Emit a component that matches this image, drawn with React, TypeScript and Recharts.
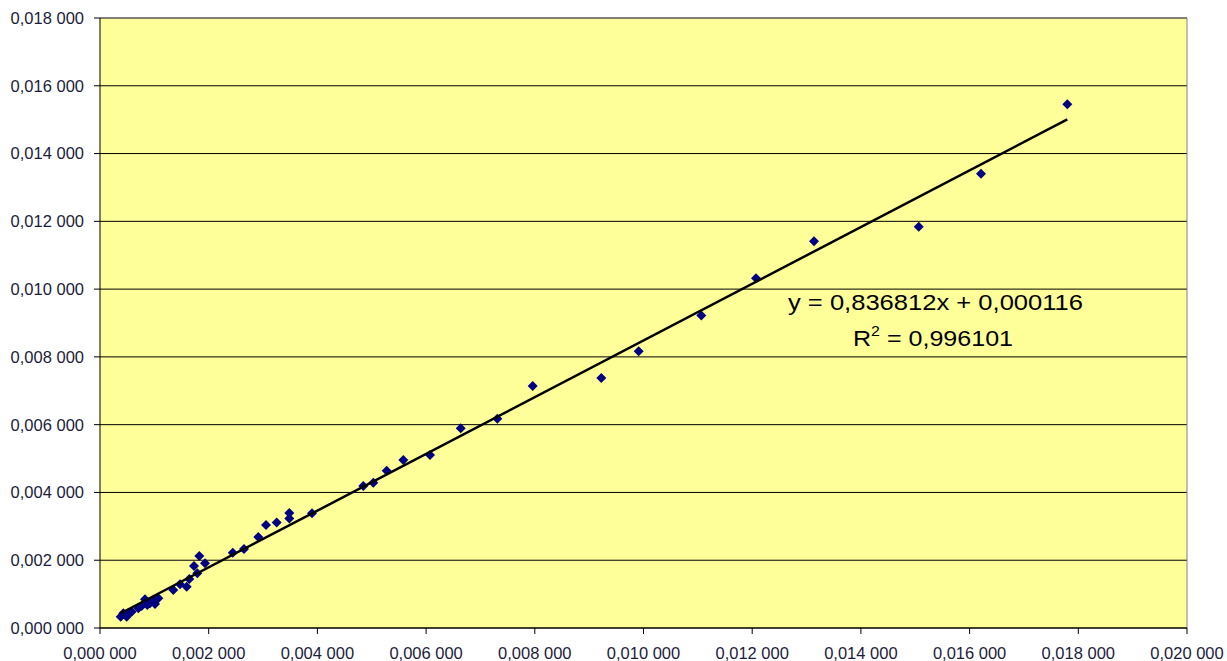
import React from 'react';
import { ScatterChart, Scatter, XAxis, YAxis, CartesianGrid, ReferenceLine } from 'recharts';

const xValues = [
  0.000381, 0.000429, 0.000491, 0.000521, 0.000583, 0.000705, 0.000767, 0.000828, 0.000871, 0.00092,
  0.000981, 0.001012, 0.001074, 0.001349, 0.001472, 0.001595, 0.001643, 0.00173, 0.00179, 0.001827,
  0.001932, 0.002442, 0.00265, 0.002913, 0.003054, 0.003251, 0.003483, 0.003483, 0.003901, 0.004845,
  0.005029, 0.005275, 0.005581, 0.006072, 0.006637, 0.00731, 0.007961, 0.009224, 0.009912, 0.011064,
  0.01207, 0.013137, 0.015064, 0.01621, 0.017798,
];
const yValues = [
  0.000333, 0.000434, 0.000333, 0.000434, 0.000481, 0.000581, 0.000649, 0.000847, 0.000679, 0.000729,
  0.000826, 0.000708, 0.000876, 0.001121, 0.00129, 0.001219, 0.001446, 0.00183, 0.001614, 0.002125,
  0.001909, 0.002222, 0.002331, 0.002685, 0.003039, 0.003113, 0.003393, 0.003231, 0.003385, 0.00419,
  0.004288, 0.004642, 0.004957, 0.005105, 0.005896, 0.006176, 0.007141, 0.007377, 0.008165, 0.009224,
  0.010319, 0.011411, 0.011842, 0.013406, 0.015453,
];
const slope = 0.836812;
const intercept = 0.000116;
const xTicks = [0, 0.002, 0.004, 0.006, 0.008, 0.01, 0.012, 0.014, 0.016, 0.018, 0.02];
const yTicks = [0, 0.002, 0.004, 0.006, 0.008, 0.01, 0.012, 0.014, 0.016, 0.018];
const equationText = 'y = 0,836812x + 0,000116';
const r2Value = '0,996101';

const points = xValues.map((x, i) => ({ x, y: yValues[i] }));
const xMin = Math.min(...xValues);
const xMax = Math.max(...xValues);
const trend = [
  { x: xMin, y: slope * xMin + intercept },
  { x: xMax, y: slope * xMax + intercept },
];

const fmt = (v: number) => {
  const s = v.toFixed(6);
  const [a, b] = s.split('.');
  return `${a},${b.slice(0, 3)} ${b.slice(3)}`;
};

const Diamond = (props: any) => {
  const { cx, cy } = props;
  if (cx == null || cy == null) return null;
  const r = 5;
  return (
    <polygon
      points={`${cx},${cy - r} ${cx + r},${cy} ${cx},${cy + r} ${cx - r},${cy}`}
      fill="#000080"
    />
  );
};

const tickStyle = { fontFamily: '"Liberation Sans", Arial, sans-serif', fontSize: 16.5, fill: '#1c1c3c' };
const FONT = '"Liberation Sans", Arial, sans-serif';

export default function App() {
  return (
    <div style={{ position: 'absolute', left: 0, top: 0, width: 1227, height: 661, background: '#fff' }}>
      <ScatterChart width={1227} height={661} margin={{ top: 18, right: 40, bottom: 0, left: 0 }}>
        <CartesianGrid horizontal={true} vertical={false} fill="#FFFF99" fillOpacity={1} stroke="#000" strokeOpacity={1} />
        <XAxis
          type="number"
          dataKey="x"
          domain={[0, 0.02]}
          ticks={xTicks}
          tickFormatter={fmt}
          height={33}
          tickSize={6}
          tickMargin={13}
          stroke="#000"
          tick={tickStyle}
          interval={0}
          allowDataOverflow
        />
        <YAxis
          type="number"
          dataKey="y"
          domain={[0, 0.018]}
          ticks={yTicks}
          tickFormatter={fmt}
          width={100}
          tickSize={6}
          tickMargin={10}
          stroke="#000"
          tick={tickStyle}
          interval={0}
          allowDataOverflow
        />
        <ReferenceLine y={0.018} stroke="#808080" strokeWidth={1} />
        <ReferenceLine x={0.02} stroke="#808080" strokeWidth={1} />
        <Scatter data={points} shape={<Diamond />} isAnimationActive={false} />
        <Scatter
          data={trend}
          line={{ stroke: '#000', strokeWidth: 2.5 }}
          lineType="joint"
          shape={() => null}
          isAnimationActive={false}
        />
      </ScatterChart>
      <svg
        width={1227}
        height={661}
        style={{ position: 'absolute', left: 0, top: 0, pointerEvents: 'none' }}
      >
        <text
          x={788}
          y={309.5}
          fontFamily={FONT}
          fontSize={22}
          fill="#000"
          textLength={295}
          lengthAdjust="spacingAndGlyphs"
        >
          {equationText}
        </text>
        <text
          x={853}
          y={346}
          fontFamily={FONT}
          fontSize={22}
          fill="#000"
          textLength={160}
          lengthAdjust="spacingAndGlyphs"
        >
          R<tspan fontSize={14} dy={-10}>2</tspan>
          <tspan dy={10}>{` = ${r2Value}`}</tspan>
        </text>
      </svg>
    </div>
  );
}
